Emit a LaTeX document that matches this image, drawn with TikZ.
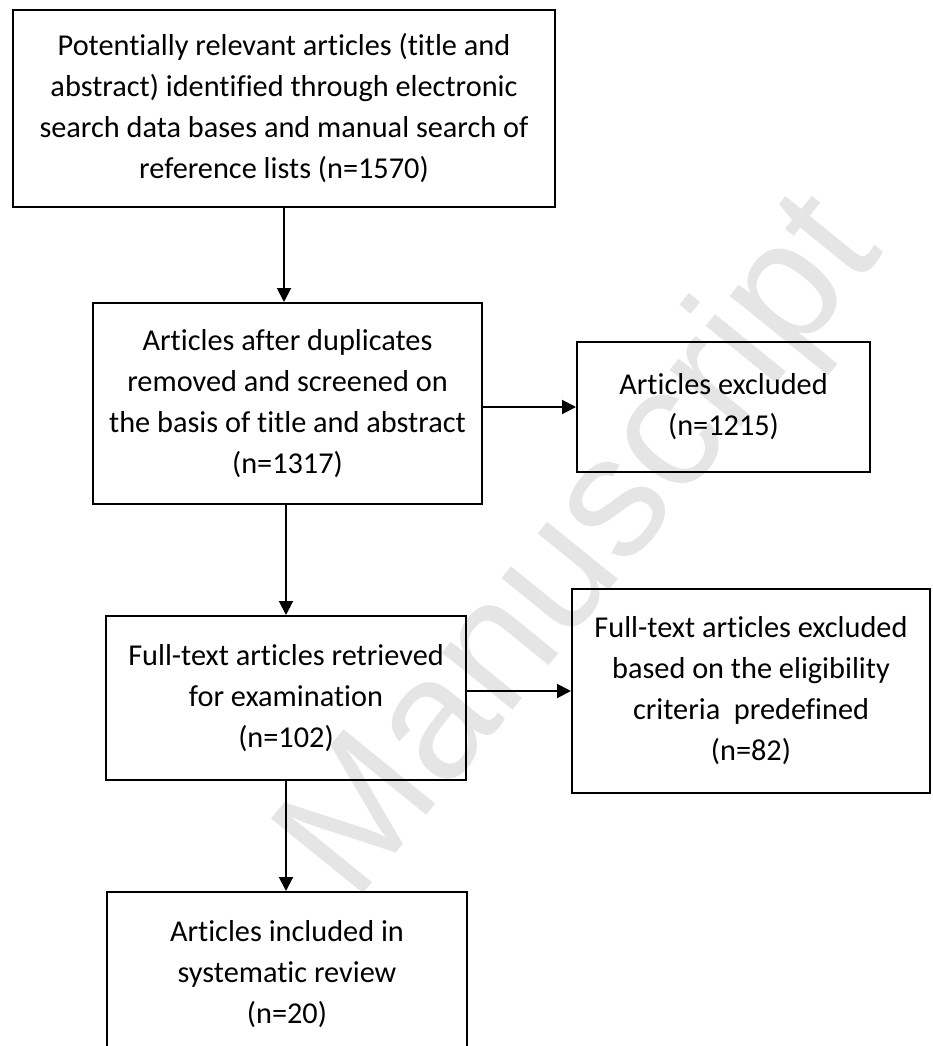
\documentclass[tikz,border=0pt]{standalone}
\usepackage{fontspec}
\setmainfont[Ligatures=NoCommon]{Carlito}
\newfontfamily\wmfont{Liberation Sans}
\usetikzlibrary{arrows.meta}
\begin{document}
\begin{tikzpicture}[x=1pt,y=-1pt,
  box/.style={draw=black, line width=2pt, inner sep=0pt, align=center,
    font=\fontsize{30.3}{41}\selectfont},
  arr/.style={draw=black, line width=2pt, -{Triangle[length=14pt,width=14pt]}}]
\useasboundingbox (0,0) rectangle (932,1046);
% watermark
\node[rotate=51, font=\wmfont\fontsize{172}{172}\selectfont, text=black!10, inner sep=0pt] (wm) at (585,550) {Manuscript};
% boxes
\node[box, minimum width=542pt, minimum height=197pt] (b1) at (284,108.5)
  {Potentially relevant articles (title and\\abstract) identified through electronic\\search data bases and manual search of\\reference lists (n=1570)};
\node[box, minimum width=389pt, minimum height=201pt] (b2) at (287.5,403.5)
  {Articles after duplicates\\removed and screened on\\the basis of title and abstract\\(n=1317)};
\node[box, minimum width=293pt, minimum height=130pt] (b3) at (723.5,407)
  {Articles excluded\\(n=1215)};
\node[box, minimum width=360pt, minimum height=164pt] (b4) at (286,698)
  {Full-text articles retrieved\\for examination\\(n=102)};
\node[box, minimum width=358pt, minimum height=204pt] (b5) at (751,691)
  {Full-text articles excluded\\based on the eligibility\\criteria\ \ predefined\\(n=82)};
\node[box, minimum width=360pt, minimum height=164pt] (b6) at (287,974)
  {Articles included in\\systematic review\\(n=20)};
% connectors
\draw[arr] (b1.south) -- (b1.south |- b2.north);
\draw[arr] (b3.west -| b2.east) -- (b3.west);
\draw[arr] (b4.north |- b2.south) -- (b4.north);
\draw[arr] (b5.west -| b4.east) -- (b5.west);
\draw[arr] (b4.south) -- (b4.south |- b6.north);
\end{tikzpicture}
\end{document}
